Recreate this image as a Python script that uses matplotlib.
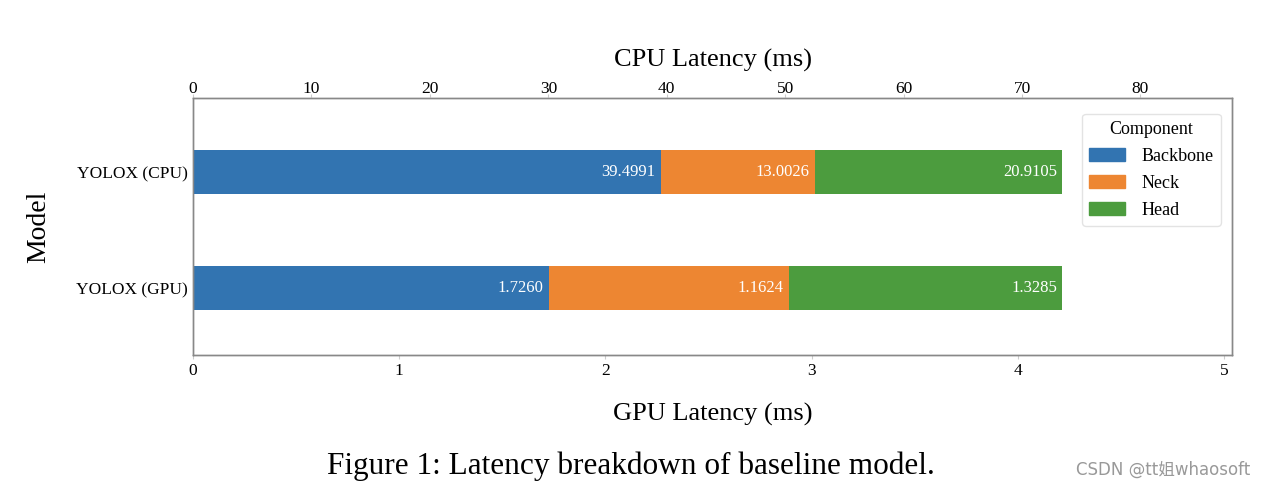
import numpy as np
import matplotlib.pyplot as plt
from matplotlib.patches import Patch

plt.rcParams['font.family'] = ['Liberation Serif', 'DejaVu Serif']

# latency breakdown values (ms)
components = ["Backbone", "Neck", "Head"]
models = ["YOLOX (GPU)", "YOLOX (CPU)"]
cpu_ms = [39.4991, 13.0026, 20.9105]
gpu_ms = [1.7260, 1.1624, 1.3285]
colors = ["#3274b1", "#ed8632", "#4c9c3e"]

fig = plt.figure(figsize=(12.64, 4.88), dpi=100)
ax = fig.add_axes([0.1527, 0.2725, 0.822, 0.5265])
ax2 = ax.twiny()

bar_h = 0.38


def stacked(axis, ypos, vals):
    left = 0.0
    for v, c in zip(vals, colors):
        axis.barh(ypos, v, left=left, height=bar_h, color=c)
        axis.annotate(f"{v:.4f}", xy=(left + v, ypos), xytext=(-4, 0),
                      textcoords="offset points", ha="right", va="center",
                      color="white", fontsize=12)
        left += v


stacked(ax, 0, gpu_ms)
stacked(ax2, 1, cpu_ms)

ax.set_xlim(0, sum(gpu_ms) * 1.195)
ax2.set_xlim(0, sum(cpu_ms) * 1.195)
ax.set_ylim(-0.58, 1.64)
ax.set_yticks([0, 1])
ax.set_yticklabels(models, fontsize=14)

for a in (ax, ax2):
    a.tick_params(labelsize=12.5, length=3, color="#cccccc")
    for s in a.spines.values():
        s.set_color("#888888")
        s.set_linewidth(1.0)
ax.tick_params(axis="x", pad=3)
ax2.tick_params(axis="x", pad=-2)
ax.tick_params(axis="y", length=0, pad=4)

ax.set_xlabel("GPU Latency (ms)", fontsize=19, labelpad=17)
ax2.set_xlabel("CPU Latency (ms)", fontsize=19, labelpad=10)
ax.set_ylabel("Model", fontsize=20, labelpad=18)

handles = [Patch(color=c, label=n) for c, n in zip(colors, components)]
leg = ax2.legend(handles=handles, title="Component", loc="upper right",
                 bbox_to_anchor=(0.998, 0.975), fontsize=13, title_fontsize=13,
                 frameon=True, handlelength=2.0, handletextpad=0.9,
                 borderpad=0.4, labelspacing=0.55)
leg.get_frame().set_edgecolor("#dddddd")
leg.set_zorder(5)

fig.text(0.499, 0.045, "Figure 1: Latency breakdown of baseline model.",
         ha="center", va="center", fontsize=22.5)
fig.text(0.989, 0.038, "CSDN @tt姐whaosoft", ha="right", va="center",
         fontsize=12, color="#999999",
         family=["DejaVu Sans", "Noto Sans CJK SC"])

fig.savefig("out.png", dpi=100)
